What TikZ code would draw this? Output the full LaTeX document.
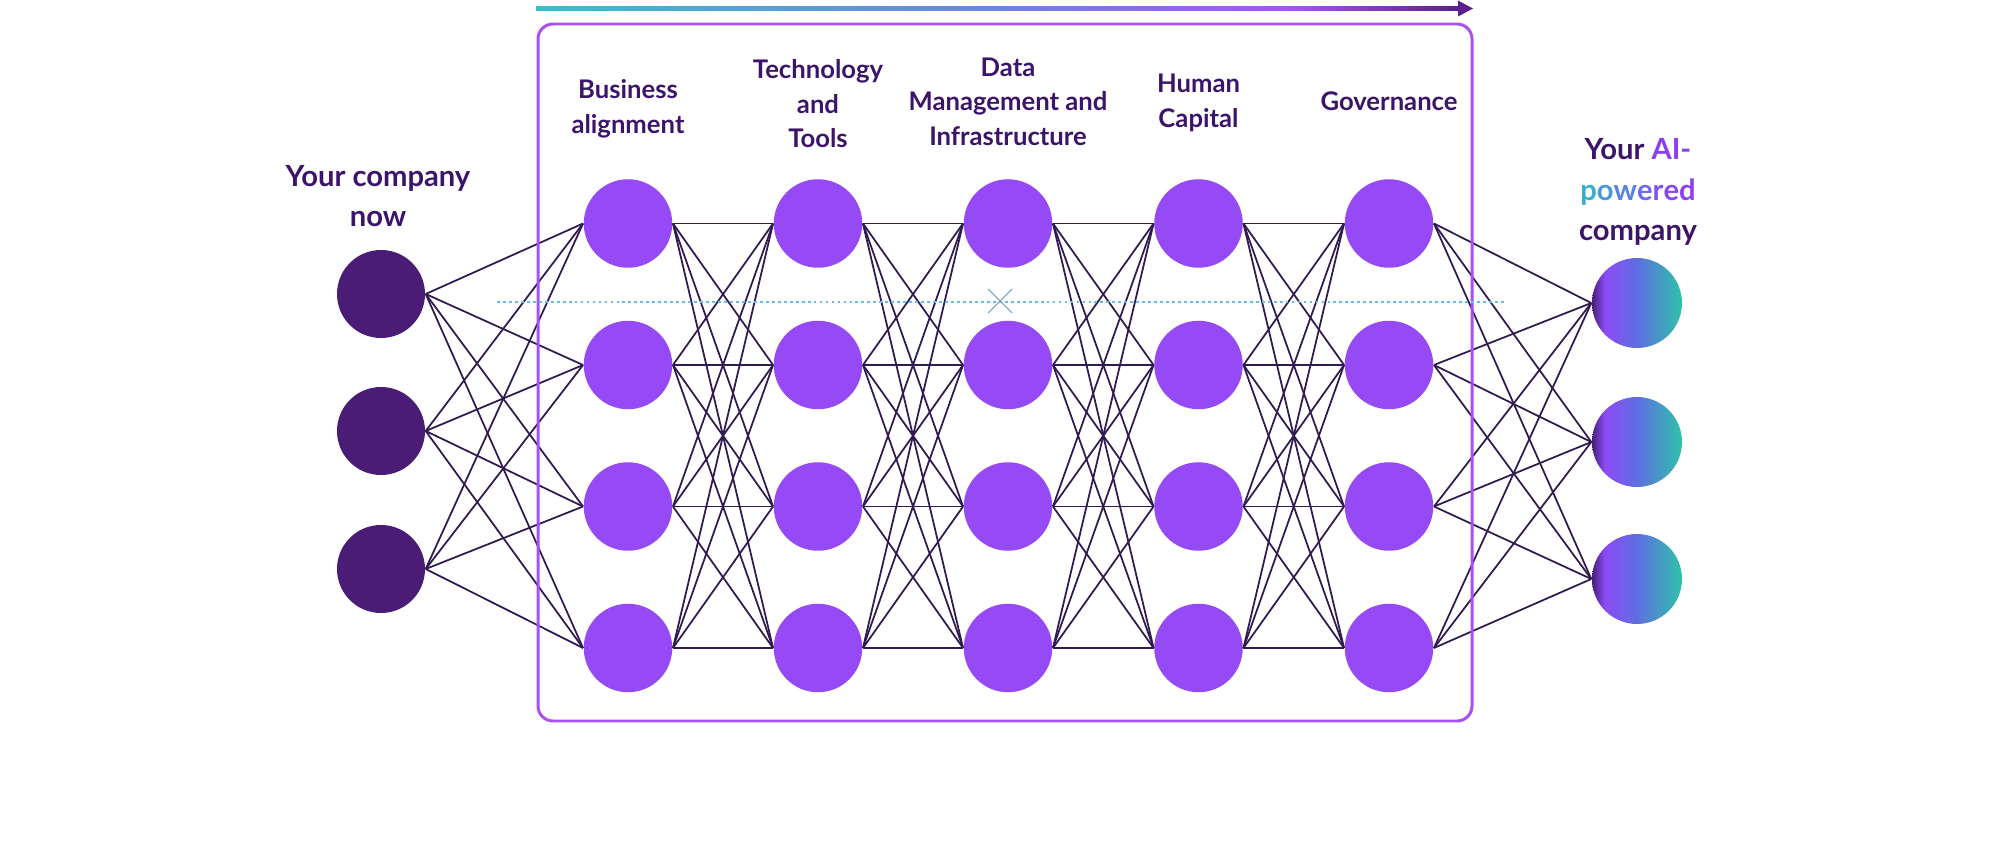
\documentclass[tikz,border=0pt]{standalone}
\usepackage{fontspec}
\setmainfont{Lato}

\definecolor{ink}{RGB}{60,20,105}
\definecolor{unitviolet}{RGB}{150,74,246}
\definecolor{nowpurple}{RGB}{74,28,118}
\definecolor{linkcol}{RGB}{48,26,80}
\definecolor{framecol}{RGB}{170,80,240}
\definecolor{guidecol}{RGB}{110,185,232}
\definecolor{aidark}{RGB}{70,30,120}
\definecolor{aiviolet}{RGB}{140,75,245}
\definecolor{aiblue}{RGB}{95,110,225}
\definecolor{aiteal}{RGB}{45,195,170}
\definecolor{arrteal}{RGB}{60,190,200}
\definecolor{arrblue}{RGB}{110,130,230}
\definecolor{arrviolet}{RGB}{165,85,240}
\definecolor{arrdark}{RGB}{90,32,145}

\pgfdeclarehorizontalshading{aiball}{100bp}{color(0bp)=(aidark); color(25bp)=(aidark); color(32bp)=(aiviolet); color(50bp)=(aiblue); color(75bp)=(aiteal); color(100bp)=(aiteal)}
\pgfdeclarehorizontalshading{topgrad}{100bp}{color(0bp)=(arrteal); color(25bp)=(arrteal); color(50bp)=(arrblue); color(66bp)=(arrviolet); color(75bp)=(arrdark); color(100bp)=(arrdark)}

% gradient word on the right
\newcommand{\pwrd}{{\color[RGB]{55,175,205}p}{\color[RGB]{70,155,215}o}{\color[RGB]{90,130,225}w}{\color[RGB]{110,105,232}e}{\color[RGB]{125,85,238}r}{\color[RGB]{135,72,240}e}{\color[RGB]{140,64,240}d}}

\begin{document}
\begin{tikzpicture}[
    unit/.style={circle, fill=unitviolet, minimum size=0.885cm, inner sep=0pt},
    now/.style={circle, fill=nowpurple, minimum size=0.88cm, inner sep=0pt},
    goal/.style={circle, shade, shading=aiball, minimum size=0.9cm, inner sep=0pt},
    link/.style={draw=linkcol, line width=0.5pt},
    head/.style={font=\fontsize{7.3}{9.8}\selectfont\bfseries, text=ink, align=center},
    side/.style={font=\fontsize{8.3}{11.5}\selectfont\bfseries, text=ink, align=center},
    frame/.style={draw=framecol, line width=0.85pt, rounded corners=0.15cm},
    guide/.style={draw=guidecol, line width=0.5pt, dash pattern=on 0.8pt off 0.9pt}
]
\useasboundingbox (0,0) rectangle (20,-8.52);

% current company
\node[now] (now1) at (3.81,-2.94) {};
\node[now] (now2) at (3.81,-4.31) {};
\node[now] (now3) at (3.81,-5.69) {};

% hidden layers
\foreach \x [count=\i] in {6.28,8.18,10.08,11.985,13.89}
  \foreach \y [count=\j] in {-2.235,-3.65,-5.065,-6.48}
    \node[unit] (u\i\j) at (\x,\y) {};

% AI-powered company
\node[goal] (ai1) at (16.37,-3.03) {};
\node[goal] (ai2) at (16.37,-4.42) {};
\node[goal] (ai3) at (16.37,-5.79) {};

% labels
\node[side] (tnow) at (3.78,-1.96) {Your company\\now};
\node[side] (tai) at (16.38,-1.92) {Your {\color[RGB]{138,63,240}AI-}\\\pwrd\\company};
\node[head] (h1) at (6.28,-1.09) {Business\\alignment};
\node[head] (h2) at (8.18,-1.04) {Technology\\and\\Tools};
\node[head] (h3) at (10.08,-1.015) {Data\\Management and\\Infrastructure};
\node[head] (h4) at (11.985,-1.03) {Human\\Capital};
\node[head] (h5) at (13.89,-1.01) {Governance};

% connections
\foreach \a in {1,2,3}
  \foreach \b in {1,...,4}
    \draw[link] (now\a.east) -- (u1\b.west);
\foreach \i [evaluate=\i as \k using int(\i+1)] in {1,...,4}
  \foreach \a in {1,...,4}
    \foreach \b in {1,...,4}
      \draw[link] (u\i\a.east) -- (u\k\b.west);
\foreach \a in {1,...,4}
  \foreach \b in {1,2,3}
    \draw[link] (u5\a.east) -- (ai\b.west);

% frame round the layers
\draw[frame] (5.38,-0.24) rectangle (14.72,-7.21);

% top arrow
\coordinate (arrS) at (5.36,-0.085);
\coordinate (arrE) at (14.58,-0.085);
\shade[shading=topgrad] ([yshift=0.016cm]arrS) rectangle ([yshift=-0.016cm]arrE);
\fill[arrdark] ([yshift=0.08cm]arrE) -- ([xshift=0.15cm]arrE) -- ([yshift=-0.08cm]arrE) -- cycle;

% guide line
\coordinate (gl) at (4.97,-3.02);
\coordinate (gr) at (15.05,-3.02);
\coordinate (gx) at (10.0,-3.01);
\draw[guide] (gl) -- (gr);
\draw[guidecol!60!gray, line width=0.3pt] ([shift={(-0.12,0.12)}]gx) -- ([shift={(0.12,-0.12)}]gx);
\draw[guidecol!60!gray, line width=0.3pt] ([shift={(-0.12,-0.12)}]gx) -- ([shift={(0.12,0.12)}]gx);
\end{tikzpicture}
\end{document}
